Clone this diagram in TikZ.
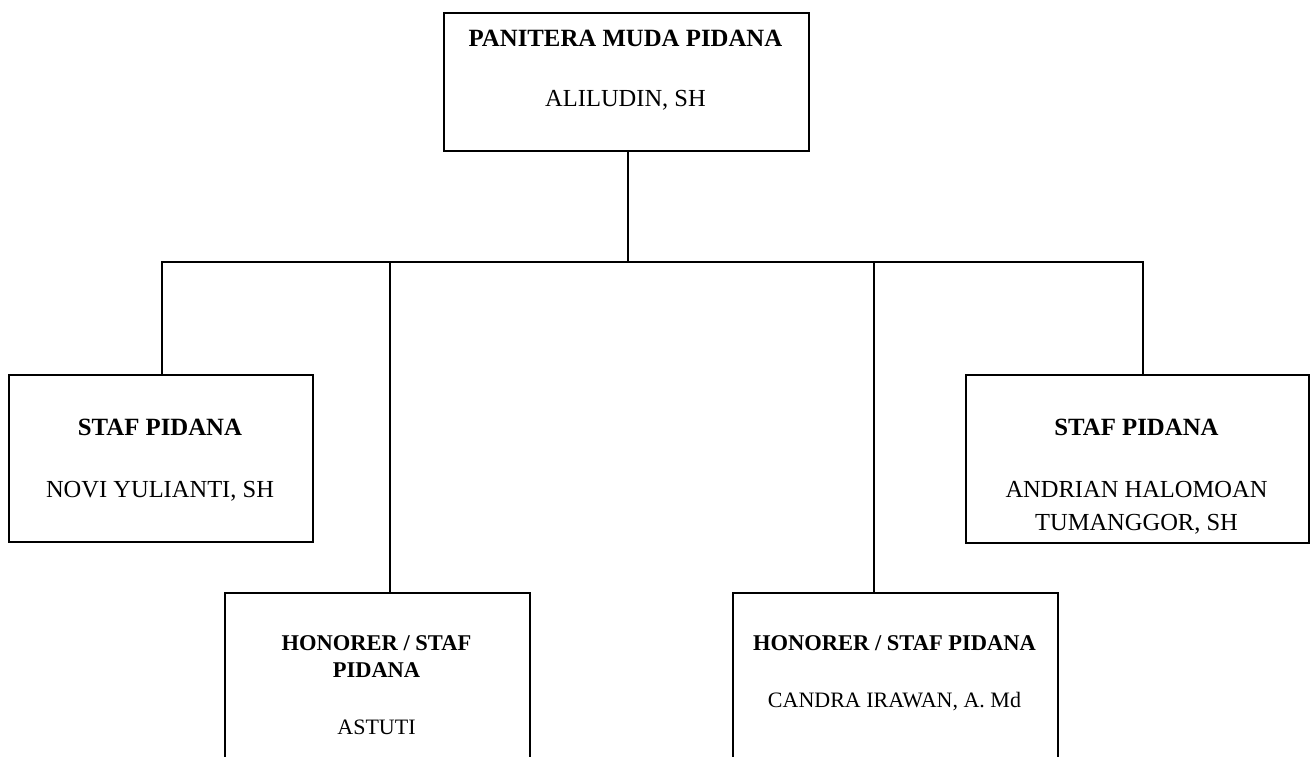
\documentclass[tikz,border=0pt]{standalone}
\usepackage{fontspec}
\setmainfont{Liberation Serif}
\begin{document}
\begin{tikzpicture}[x=1pt,y=1pt,
  box/.style={draw, line width=2pt, rectangle, inner sep=0pt, anchor=north west},
  ttl/.style={anchor=base, inner sep=0pt, font=\bfseries\fontsize{24.8}{28}\selectfont},
  nm/.style={anchor=base, inner sep=0pt, font=\fontsize{24.5}{28}\selectfont},
  ttls/.style={anchor=base, inner sep=0pt, font=\bfseries\fontsize{22.5}{26}\selectfont},
  nms/.style={anchor=base, inner sep=0pt, font=\fontsize{22}{26}\selectfont},
  conn/.style={line width=2pt}]
\clip (0,0) rectangle (1313,-756);
\fill[white] (0,0) rectangle (1313,-756);

% boxes
\node[box, minimum width=365pt, minimum height=138pt] (top) at (443,-12) {};
\node[box, minimum width=304pt, minimum height=167pt] (s1) at (8,-374) {};
\node[box, minimum width=343pt, minimum height=168pt] (s2) at (965,-374) {};
\node[box, minimum width=305pt, minimum height=200pt] (h1) at (224,-592) {};
\node[box, minimum width=325pt, minimum height=200pt] (h2) at (732,-592) {};

% texts
\node[ttl] (topT) at (625.5,-46.5) {PANITERA MUDA PIDANA};
\node[nm] (topN) at (625.5,-106.5) {ALILUDIN, SH};

\node[ttl] (s1T) at (160,-435) {STAF PIDANA};
\node[nm] (s1N) at (160,-497) {NOVI YULIANTI, SH};

\node[ttl] (s2T) at (1136.5,-435) {STAF PIDANA};
\node[nm] (s2N1) at (1136.5,-497) {ANDRIAN HALOMOAN};
\node[nm] (s2N2) at (1136.5,-530) {TUMANGGOR, SH};

\node[ttls] (h1T1) at (376.5,-650) {HONORER / STAF};
\node[ttls] (h1T2) at (376.5,-677) {PIDANA};
\node[nms] (h1N) at (376.5,-734) {ASTUTI};

\node[ttls] (h2T) at (894.5,-650) {HONORER / STAF PIDANA};
\node[nms] (h2N) at (894.5,-707) {CANDRA IRAWAN, A. Md};

% connectors
\coordinate (j) at (627.5,-262.3);
\draw[conn] (top.south -| j) -- (j);
\draw[conn] (j) -| ([xshift=1pt]s1.north);
\draw[conn] (j) -| ([xshift=5pt]s2.north);
\draw[conn] (j) -| ([xshift=12.3pt]h1.north);
\draw[conn] (j) -| ([xshift=-21.2pt]h2.north);
\end{tikzpicture}
\end{document}
